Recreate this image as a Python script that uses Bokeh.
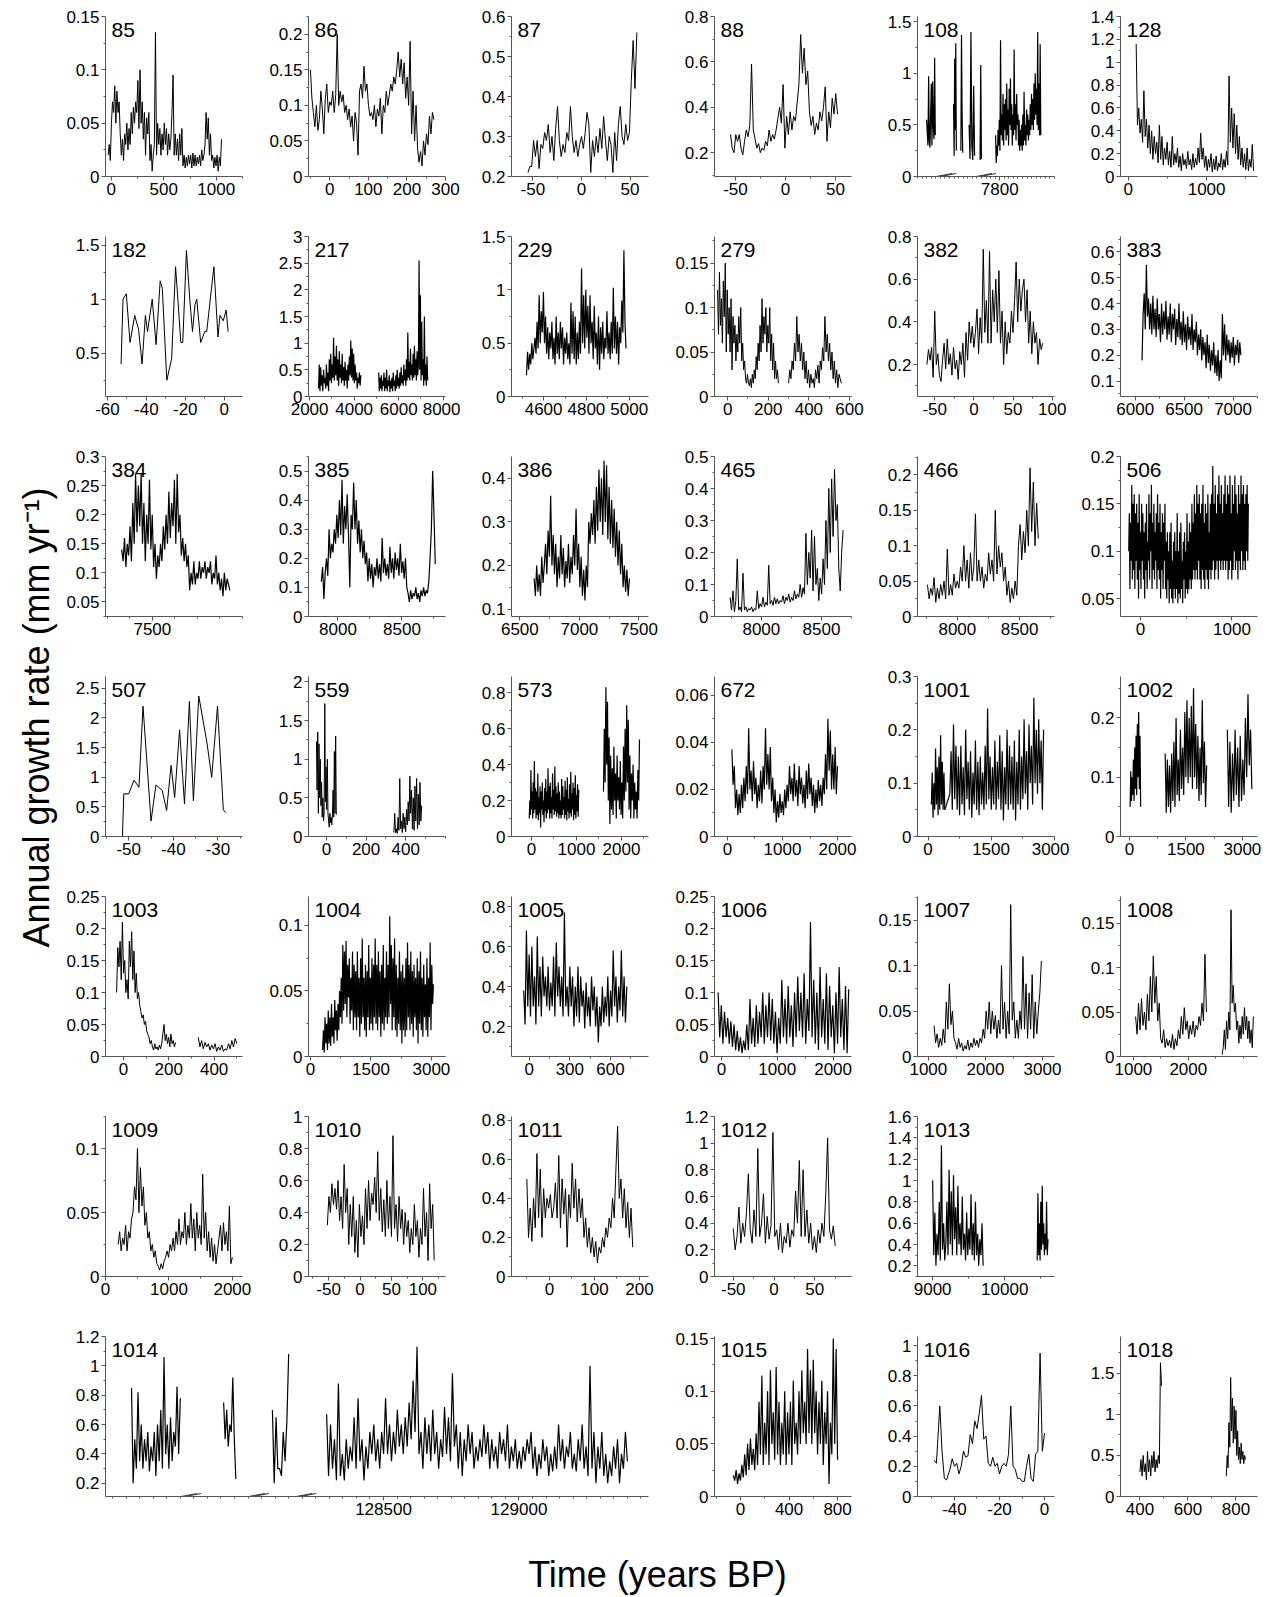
import numpy as np
from math import pi
from bokeh.plotting import figure
from bokeh.models import Range1d, FixedTicker, Label, Spacer, NumeralTickFormatter
from bokeh.layouts import row, column
from bokeh.embed import file_html
from bokeh.resources import INLINE

FONT = "Liberation Sans"

# ---------------- data ----------------
Y85 = [0.02,0.03,0.015,0.05,0.07,0.06,0.085,0.05,0.08,0.06,0.07,0.04,0.02,0.035,0.015,0.04,0.03,0.05,0.025,0.045,0.03,0.06,0.04,0.065,0.05,0.07,0.06,0.09,0.045,0.1,0.05,0.07,0.035,0.06,0.02,0.055,0.04,0.06,0.015,0.03,0.005,0.02,0.03,0.135,0.02,0.05,0.03,0.045,0.02,0.04,0.025,0.05,0.03,0.045,0.02,0.04,0.025,0.035,0.06,0.095,0.02,0.04,0.02,0.035,0.015,0.04,0.02,0.045,0.01,0.02,0.008,0.018,0.01,0.02,0.012,0.02,0.008,0.022,0.01,0.02,0.01,0.018,0.012,0.02,0.01,0.025,0.015,0.02,0.03,0.06,0.035,0.055,0.02,0.04,0.015,0.02,0.008,0.018,0.01,0.02,0.005,0.018,0.01,0.035]
Y86 = [0.15,0.11,0.09,0.07,0.1,0.065,0.08,0.12,0.095,0.06,0.11,0.13,0.09,0.105,0.1,0.12,0.09,0.115,0.2,0.1,0.12,0.105,0.115,0.09,0.1,0.08,0.095,0.07,0.085,0.05,0.09,0.075,0.03,0.12,0.13,0.11,0.155,0.12,0.13,0.1,0.085,0.09,0.08,0.1,0.07,0.095,0.085,0.11,0.06,0.1,0.09,0.12,0.1,0.115,0.13,0.12,0.14,0.13,0.15,0.175,0.14,0.165,0.13,0.16,0.11,0.14,0.1,0.19,0.06,0.12,0.05,0.1,0.04,0.02,0.035,0.015,0.05,0.03,0.06,0.045,0.085,0.06,0.09,0.08]
Y87 = [0.21,0.225,0.225,0.29,0.25,0.29,0.22,0.28,0.27,0.31,0.29,0.33,0.26,0.3,0.24,0.32,0.375,0.29,0.25,0.28,0.26,0.31,0.29,0.375,0.3,0.26,0.29,0.25,0.28,0.3,0.27,0.31,0.36,0.33,0.21,0.29,0.25,0.3,0.26,0.32,0.27,0.35,0.29,0.24,0.3,0.28,0.21,0.31,0.24,0.33,0.375,0.3,0.28,0.33,0.29,0.31,0.44,0.54,0.42,0.56]
Y88 = [0.28,0.22,0.2,0.28,0.25,0.28,0.22,0.19,0.25,0.3,0.27,0.32,0.59,0.3,0.26,0.22,0.24,0.2,0.22,0.21,0.25,0.23,0.3,0.25,0.28,0.26,0.3,0.35,0.4,0.33,0.5,0.22,0.36,0.28,0.38,0.3,0.36,0.34,0.42,0.5,0.72,0.55,0.66,0.5,0.56,0.38,0.32,0.36,0.28,0.33,0.3,0.38,0.34,0.4,0.49,0.25,0.38,0.31,0.44,0.37,0.46,0.37]
Y108A = [0.55,0.42,0.3,0.97,0.35,0.28,0.6,0.9,0.3,0.92,0.5,0.36,1.15,0.4]
Y108B = [0.7,0.2,1.14,0.45,1.29,0.25]
Y108C = [0.25,1.37,0.6,0.23]
Y108D = [0.5,0.17,1.4,0.3,0.16,0.88,0.2]
Y108E = [0.16,1.08,0.17]
Y108F = [0.4,0.13,0.3,0.2,0.45,0.3,0.55,0.25,1.32,0.4,0.6,0.35,0.8,0.3,0.7,0.45,0.75,0.35,0.9,0.4,0.65,0.3,0.85,0.5,0.95,0.45,0.7,0.3,0.6,0.4,1.23,0.45,0.7,0.35,0.8,0.5,0.6,0.3,0.55,0.25,0.45,0.3,0.5,0.25,0.6,0.3,0.82,0.35,0.5,0.3,0.65,0.4,0.6,0.35,0.55,0.4,0.7,0.45,0.8,0.5,0.75,0.45,0.9,0.55,1.0,0.6,0.85,0.5,1.4,0.45,0.9,0.4,1.28,0.4]
BREAKS108 = [7683, 7770]
Y128 = [1.16,0.45,0.6,0.38,0.5,0.3,0.75,0.35,0.5,0.25,0.45,0.2,0.4,0.15,0.35,0.2,0.3,0.12,0.45,0.15,0.35,0.1,0.25,0.15,0.3,0.1,0.22,0.08,0.35,0.1,0.2,0.12,0.25,0.08,0.18,0.05,0.2,0.1,0.15,0.07,0.22,0.1,0.15,0.06,0.2,0.08,0.16,0.1,0.25,0.12,0.38,0.15,0.25,0.08,0.18,0.05,0.15,0.08,0.2,0.04,0.15,0.06,0.18,0.05,0.12,0.08,0.2,0.06,0.15,0.08,0.22,0.1,0.88,0.3,0.6,0.25,0.55,0.2,0.45,0.15,0.35,0.1,0.25,0.08,0.2,0.06,0.25,0.05,0.15,0.08,0.28,0.05]
X182 = [-53,-52,-50.3,-48.4,-46,-44,-42.2,-40.5,-39.4,-37,-35,-32.9,-31.8,-29.5,-27,-25,-24,-22.3,-21.3,-19.4,-17.7,-16.3,-15,-14.1,-12.1,-10,-9,-5.3,-3.2,-2.2,-0.5,1,2]
Y182 = [0.4,1.0,1.05,0.6,0.85,0.72,0.4,0.85,0.7,1.0,0.58,1.17,1.1,0.25,0.45,1.3,1.05,0.6,0.6,1.45,1.0,0.7,0.95,1.0,0.6,0.7,0.7,1.3,0.65,0.85,0.8,0.9,0.7]
Y217A = [0.15,0.6,0.1,0.55,0.2,0.4,0.1,0.5,0.25,0.35,0.15,0.6,0.2,0.45,0.1,0.7,0.3,0.8,0.25,0.6,0.35,1.1,0.3,0.75,0.4,0.95,0.3,0.7,0.2,0.85,0.35,0.6,0.25,0.8,0.3,0.55,0.2,0.65,0.3,0.5,0.15,0.6,0.3,0.75,0.4,1.05,0.35,0.9,0.3,0.8,0.25,0.6,0.3,0.45,0.15,0.35,0.25,0.45,0.2,0.4]
Y217B = [0.45,0.1,0.35,0.15,0.4,0.1,0.3,0.2,0.45,0.1,0.35,0.15,0.5,0.1,0.3,0.2,0.4,0.08,0.3,0.15,0.35,0.1,0.45,0.2,0.3,0.1,0.4,0.15,0.5,0.2,0.35,0.15,0.45,0.2,0.55,0.25,0.4,0.2,0.6,0.3,0.5,0.2,0.7,0.3,1.2,0.35,0.65,0.3,0.9,0.4,0.6,0.3,0.8,0.35,0.95,0.4,0.7,0.3,0.85,0.4,0.6,2.55,0.5,1.9,0.3,1.4,0.4,0.7,0.2,1.5,0.3,0.6,0.2,0.75,0.3]
Y229 = [0.2,0.42,0.25,0.4,0.3,0.5,0.35,0.45,0.55,0.4,0.7,0.45,0.95,0.5,0.8,0.6,0.98,0.5,0.75,0.4,0.65,0.35,0.6,0.45,0.7,0.35,0.55,0.3,0.75,0.4,0.6,0.35,0.7,0.45,0.65,0.3,0.55,0.4,0.6,0.35,0.5,0.3,0.88,0.4,0.8,0.35,0.75,0.3,0.6,0.35,0.7,0.4,1.2,0.5,0.95,0.45,1.0,0.55,0.85,0.4,0.95,0.5,0.7,0.35,0.85,0.45,0.6,0.3,0.75,0.25,0.65,0.4,0.7,0.35,0.55,0.45,0.8,0.4,0.6,0.35,0.7,0.4,1.02,0.45,0.75,0.4,0.7,0.3,0.65,0.5,0.9,0.6,1.37,0.7,0.45]
Y279A = [0.12,0.07,0.14,0.08,0.11,0.06,0.13,0.09,0.15,0.05,0.12,0.07,0.1,0.05,0.11,0.03,0.09,0.06,0.08,0.04,0.07,0.05,0.09,0.06,0.1,0.04,0.06,0.03,0.04,0.02,0.015,0.025,0.015,0.012,0.02,0.01,0.025,0.015,0.03,0.02,0.045,0.03,0.06,0.04,0.08,0.05,0.11,0.06,0.09,0.07,0.1,0.05,0.08,0.06,0.1,0.04,0.07,0.03,0.06,0.02,0.04,0.02,0.03,0.015]
Y279B = [0.015,0.03,0.02,0.04,0.03,0.06,0.04,0.09,0.05,0.07,0.04,0.06,0.03,0.05,0.02,0.04,0.015,0.03,0.01,0.025,0.015,0.02,0.01,0.03,0.02,0.035,0.015,0.04,0.03,0.055,0.04,0.09,0.05,0.07,0.04,0.06,0.03,0.05,0.02,0.04,0.015,0.03,0.01,0.025,0.02,0.015]
Y382 = [0.2,0.27,0.22,0.28,0.14,0.45,0.2,0.25,0.15,0.12,0.22,0.3,0.18,0.32,0.2,0.25,0.15,0.28,0.18,0.22,0.13,0.26,0.2,0.3,0.14,0.35,0.22,0.4,0.3,0.38,0.28,0.35,0.46,0.25,0.42,0.3,0.74,0.35,0.5,0.3,0.73,0.3,0.55,0.4,0.6,0.35,0.64,0.3,0.45,0.2,0.4,0.25,0.35,0.3,0.45,0.35,0.5,0.68,0.4,0.6,0.45,0.55,0.6,0.4,0.55,0.3,0.45,0.25,0.4,0.3,0.35,0.2,0.32,0.27,0.3]
Y383 = [0.18,0.36,0.44,0.3,0.55,0.35,0.42,0.3,0.4,0.28,0.43,0.3,0.38,0.27,0.42,0.3,0.36,0.25,0.4,0.28,0.37,0.3,0.41,0.26,0.35,0.28,0.4,0.25,0.36,0.3,0.38,0.24,0.34,0.27,0.4,0.26,0.33,0.24,0.37,0.25,0.32,0.22,0.35,0.26,0.31,0.24,0.36,0.22,0.3,0.25,0.33,0.2,0.28,0.22,0.3,0.18,0.27,0.2,0.25,0.15,0.28,0.17,0.24,0.14,0.22,0.16,0.25,0.13,0.2,0.12,0.22,0.1,0.18,0.11,0.36,0.2,0.32,0.18,0.28,0.2,0.26,0.17,0.25,0.19,0.27,0.16,0.24,0.2,0.26,0.17,0.25,0.2]
Y384 = [0.14,0.12,0.16,0.11,0.15,0.13,0.18,0.12,0.22,0.15,0.27,0.17,0.25,0.18,0.27,0.15,0.22,0.12,0.2,0.15,0.26,0.14,0.2,0.11,0.15,0.09,0.13,0.11,0.15,0.12,0.18,0.14,0.2,0.15,0.24,0.16,0.22,0.18,0.26,0.15,0.27,0.17,0.2,0.13,0.16,0.12,0.15,0.11,0.13,0.07,0.1,0.08,0.12,0.08,0.1,0.09,0.12,0.09,0.11,0.1,0.12,0.09,0.11,0.1,0.12,0.08,0.1,0.09,0.13,0.08,0.1,0.07,0.09,0.06,0.1,0.07,0.09,0.08,0.07]
Y385 = [0.12,0.17,0.06,0.15,0.2,0.14,0.3,0.2,0.25,0.22,0.3,0.25,0.35,0.27,0.4,0.28,0.47,0.25,0.38,0.3,0.42,0.28,0.1,0.35,0.3,0.46,0.3,0.4,0.25,0.33,0.22,0.3,0.2,0.26,0.18,0.22,0.12,0.2,0.13,0.18,0.1,0.17,0.14,0.2,0.13,0.18,0.12,0.27,0.15,0.2,0.14,0.18,0.13,0.24,0.15,0.2,0.13,0.22,0.16,0.2,0.14,0.25,0.15,0.19,0.13,0.2,0.1,0.08,0.05,0.09,0.06,0.08,0.07,0.1,0.06,0.08,0.05,0.09,0.07,0.1,0.07,0.09,0.08,0.12,0.2,0.3,0.5,0.35,0.18]
Y386 = [0.17,0.13,0.2,0.14,0.18,0.13,0.22,0.16,0.2,0.25,0.18,0.28,0.22,0.36,0.2,0.27,0.18,0.25,0.15,0.22,0.17,0.27,0.18,0.24,0.15,0.21,0.17,0.25,0.16,0.22,0.18,0.27,0.2,0.33,0.19,0.25,0.15,0.22,0.13,0.19,0.12,0.2,0.15,0.3,0.25,0.32,0.27,0.35,0.25,0.38,0.28,0.42,0.3,0.4,0.27,0.44,0.3,0.43,0.26,0.38,0.25,0.35,0.24,0.33,0.22,0.3,0.2,0.28,0.18,0.25,0.15,0.2,0.14,0.19,0.13,0.17]
Y465 = [0.06,0.02,0.08,0.015,0.05,0.18,0.02,0.03,0.015,0.135,0.02,0.03,0.015,0.025,0.02,0.03,0.015,0.025,0.02,0.08,0.025,0.04,0.03,0.06,0.03,0.045,0.035,0.16,0.04,0.05,0.035,0.06,0.04,0.055,0.04,0.05,0.045,0.065,0.04,0.06,0.05,0.07,0.045,0.06,0.05,0.08,0.055,0.07,0.06,0.1,0.06,0.09,0.07,0.26,0.1,0.2,0.12,0.27,0.08,0.25,0.1,0.15,0.05,0.12,0.07,0.18,0.1,0.3,0.15,0.4,0.2,0.43,0.25,0.46,0.3,0.35,0.15,0.08,0.2,0.27]
Y466 = [0.045,0.025,0.04,0.03,0.055,0.02,0.04,0.025,0.045,0.03,0.05,0.025,0.095,0.03,0.045,0.03,0.06,0.04,0.05,0.04,0.07,0.05,0.1,0.05,0.08,0.04,0.09,0.05,0.07,0.145,0.05,0.08,0.05,0.07,0.04,0.06,0.05,0.09,0.06,0.08,0.05,0.15,0.06,0.1,0.07,0.09,0.05,0.07,0.03,0.05,0.02,0.04,0.025,0.05,0.03,0.1,0.13,0.08,0.12,0.09,0.15,0.1,0.21,0.12,0.19,0.1,0.16,0.11]
Y506 = [0.1,0.14,0.06,0.13,0.09,0.17,0.07,0.15,0.08,0.16,0.06,0.14,0.09,0.15,0.07,0.13,0.05,0.16,0.08,0.12,0.06,0.15,0.09,0.14,0.07,0.12,0.05,0.13,0.08,0.15,0.06,0.11,0.09,0.16,0.07,0.14,0.1,0.17,0.06,0.13,0.08,0.15,0.07,0.12,0.09,0.14,0.06,0.16,0.08,0.13,0.07,0.15,0.05,0.12,0.08,0.14,0.06,0.13,0.09,0.15,
        0.06,0.11,0.05,0.12,0.07,0.1,0.045,0.12,0.06,0.13,0.05,0.09,0.045,0.11,0.06,0.12,0.05,0.1,0.06,0.14,0.045,0.1,0.055,0.12,0.05,0.13,0.06,0.09,0.045,0.11,0.07,0.12,0.05,0.1,0.06,0.14,0.055,0.11,0.06,0.13,0.07,0.12,0.06,0.15,0.07,0.13,0.08,0.16,0.07,0.14,
        0.08,0.17,0.07,0.15,0.09,0.16,0.07,0.14,0.06,0.15,0.08,0.17,0.07,0.13,0.06,0.15,0.08,0.14,0.07,0.16,0.06,0.12,0.08,0.15,0.07,0.16,0.08,0.19,0.09,0.15,0.07,0.17,0.08,0.14,0.09,0.16,0.07,0.18,0.09,0.15,0.08,0.17,0.09,0.14,0.08,0.16,0.09,0.18,0.08,0.15,0.09,0.17,0.07,0.16,0.08,0.18,0.09,0.14,0.07,0.17,0.08,0.15,0.1,0.18,0.08,0.16,0.09,0.14,0.07,0.17,0.09,0.15,0.08,0.18,0.1,0.16,0.08,0.17,0.09,0.15,0.08,0.16,0.1,0.17,0.09,0.15]
X507 = [-51.4,-51.1,-50,-48.8,-47.7,-46.8,-45,-43.9,-42.5,-41.5,-40.5,-39.7,-38.6,-37.5,-36.4,-35.5,-34.3,-32.5,-31.4,-30.1,-28.8,-28.2]
Y507 = [0,0.72,0.72,0.95,0.83,2.2,0.26,0.87,0.78,0.44,1.2,0.66,1.8,0.55,2.28,0.6,2.37,1.6,1.0,2.2,0.45,0.4]
Y559A = [1.23,0.6,1.35,0.3,1.2,0.5,1.0,0.4,0.7,0.25,0.5,0.2,0.3,1.72,0.45,0.9,0.35,1.0,0.3,0.2,0.12,0.3,0.18,0.25,0.15,0.3,0.6,0.25,1.1,0.3,1.3,0.28]
Y559B = [0.05,0.3,0.05,0.1,0.04,0.25,0.08,0.75,0.1,0.2,0.05,0.3,0.1,0.25,0.06,0.35,0.15,0.45,0.2,0.78,0.3,0.6,0.1,0.5,0.08,0.65,0.2,0.75,0.1,0.55,0.15,0.7,0.2,0.4]
Y573A = [0.1,0.2,0.12,0.37,0.15,0.25,0.1,0.3,0.13,0.42,0.15,0.27,0.1,0.25,0.12,0.35,0.09,0.22,0.13,0.28,0.05,0.25,0.15,0.3,0.12,0.2,0.08,0.27,0.14,0.32,0.1,0.25,0.13,0.38,0.15,0.28,0.1,0.3,0.13,0.22,0.1,0.35,0.15,0.26,0.12,0.39,0.14,0.28,0.11,0.24,0.13,0.3,0.1,0.25,0.12,0.2,0.1,0.32,0.12,0.28,0.15,0.22,0.1,0.31,
         0.12,0.26,0.09,0.33,0.14,0.21,0.1,0.29,0.13,0.36,0.11,0.24,0.15,0.3,0.09,0.27,0.12,0.34,0.1,0.23,0.14,0.29,0.11,0.26]
Y573B = [0.25,0.6,0.3,0.83,0.4,0.75,0.2,0.55,0.07,0.45,0.15,0.38,0.12,0.5,0.2,0.35,0.1,0.45,0.2,0.33,0.15,0.42,0.12,0.3,0.1,0.5,0.2,0.6,0.25,0.73,0.3,0.65,0.15,0.45,0.1,0.35,0.2,0.4,0.1,0.3,0.15,0.25,0.1,0.37,0.2,0.54]
Y672 = [0.037,0.022,0.03,0.012,0.02,0.009,0.018,0.01,0.022,0.012,0.025,0.015,0.03,0.018,0.046,0.02,0.028,0.015,0.032,0.018,0.025,0.012,0.022,0.015,0.028,0.014,0.03,0.02,0.046,0.022,0.035,0.02,0.038,0.015,0.025,0.01,0.02,0.006,0.015,0.008,0.018,0.01,0.015,0.009,0.02,0.012,0.022,0.015,0.03,0.018,0.025,0.015,0.031,0.017,0.024,0.013,0.03,0.018,0.025,0.014,0.022,0.012,0.028,0.016,0.031,0.018,0.025,0.013,0.022,0.01,0.02,0.012,0.024,0.015,0.022,0.013,0.025,0.018,0.035,0.02,0.05,0.028,0.045,0.02,0.035,0.02,0.038,0.018,0.03]
Y1001A = [0.06,0.12,0.035,0.1,0.05,0.165,0.06,0.13,0.04,0.15,0.05,0.19,0.06,0.14,0.05,0.12,0.05]
Y1001L = [0.05,0.08]
Y1001B = [0.08,0.16,0.05,0.21,0.07,0.17,0.05,0.15,0.04,0.17,0.06,0.13,0.04,0.2,0.07,0.14,0.05,0.16,0.035,0.12,0.06,0.18,0.05,0.14,0.04,0.15,0.06,0.12,0.05,0.17,0.06,0.24,0.07,0.15,0.05,0.13,0.06,0.18,0.05,0.14,0.07,0.19,0.05,0.16,0.03,0.13,0.06,0.2,0.05,0.17,0.06,0.15,0.05,0.18,0.03,0.14,0.06,0.2,0.05,0.15,0.07,0.22,0.08,0.16,0.05,0.21,0.1,0.17,0.06,0.26,0.1,0.2,0.08,0.22,0.1,0.18,0.05,0.2]
Y1002A = [0.05,0.11,0.06,0.1,0.07,0.13,0.06,0.15,0.08,0.17,0.07,0.19,0.1,0.21,0.08,0.17,0.05]
Y1002B = [0.14,0.04,0.13,0.05,0.12,0.04,0.14,0.06,0.16,0.05,0.2,0.07,0.13,0.06,0.18,0.08,0.15,0.07,0.21,0.1,0.23,0.09,0.2,0.1,0.22,0.08,0.25,0.1,0.19,0.08,0.17,0.06,0.15,0.07,0.23,0.09,0.16,0.05,0.12]
Y1002C = [0.18,0.05,0.16,0.04,0.14,0.06,0.18,0.07,0.15,0.05,0.17,0.06,0.13,0.07,0.2,0.1,0.24,0.12,0.18,0.08]
Y1003A = [0.1,0.17,0.14,0.18,0.12,0.21,0.13,0.15,0.1,0.12,0.09,0.18,0.14,0.195,0.12,0.165,0.1,0.13,0.09,0.1,0.08,0.07,0.06,0.065,0.05,0.055,0.04,0.035,0.03,0.02,0.025,0.015,0.01,0.02,0.012,0.015,0.01,0.018,0.012,0.02,0.035,0.05,0.025,0.035,0.02,0.03,0.015,0.035,0.02,0.025,0.015,0.022]
Y1003B = [0.03,0.015,0.025,0.012,0.022,0.015,0.02,0.01,0.018,0.012,0.02,0.008,0.015,0.01,0.018,0.008,0.012,0.01,0.02,0.012,0.025,0.015,0.028,0.02]
Y1004 = [0.005,0.02,0.003,0.03,0.01,0.025,0.005,0.035,0.01,0.03,0.008,0.04,0.015,0.03,0.01,0.043,0.02,0.035,0.012,0.04,0.02,0.05,0.03,0.06,0.025,
         0.085,0.035,0.08,0.04,0.088,0.03,0.07,0.045,0.075,0.025,0.06,0.035,0.08,0.02,0.07,
         0.03,0.065,0.02,0.08,0.03,0.06,0.015,0.075,0.025,0.09,0.03,0.06,0.02,0.07,0.015,0.065,0.03,0.085,0.02,0.06,0.025,0.075,0.02,0.07,0.03,0.09,0.025,0.07,0.02,0.08,0.03,0.065,0.015,0.07,0.025,0.085,0.02,0.06,0.03,0.08,0.025,0.07,0.03,0.107,0.04,0.085,0.02,0.075,0.03,0.09,0.02,0.07,0.015,0.06,0.025,0.08,0.02,0.065,0.01,0.07,0.02,0.06,0.015,0.075,0.02,0.087,0.03,0.07,0.02,0.08,0.025,0.065,0.015,0.07,0.03,0.06,0.02,0.075,0.01,0.065,0.025,0.08,0.02,0.06,0.015,0.07,0.03,0.055,0.02,0.075,0.015,0.06,0.03,0.087,0.02,0.07,0.04,0.055]
Y1005 = [0.38,0.21,0.68,0.3,0.56,0.25,0.6,0.3,0.45,0.21,0.65,0.3,0.5,0.25,0.55,0.35,0.45,0.3,0.5,0.28,0.42,0.3,0.55,0.25,0.62,0.35,0.5,0.3,0.45,0.25,0.77,0.3,0.4,0.25,0.5,0.3,0.45,0.2,0.4,0.25,0.5,0.22,0.45,0.3,0.38,0.19,0.42,0.25,0.35,0.2,0.45,0.28,0.4,0.2,0.35,0.12,0.3,0.2,0.4,0.22,0.35,0.25,0.45,0.2,0.38,0.25,0.58,0.3,0.45,0.22,0.4,0.28,0.58,0.25,0.45,0.22,0.4]
Y1006 = [0.1,0.03,0.08,0.02,0.07,0.03,0.06,0.02,0.055,0.015,0.05,0.01,0.04,0.008,0.03,0.005,0.025,0.01,0.05,0.01,0.09,0.02,0.06,0.015,0.08,0.02,0.07,0.03,0.1,0.02,0.08,0.03,0.1,0.025,0.09,0.02,0.07,0.005,0.06,0.02,0.12,0.03,0.09,0.02,0.11,0.03,0.08,0.015,0.1,0.03,0.125,0.04,0.1,0.03,0.13,0.02,0.09,0.04,0.21,0.03,0.12,0.02,0.1,0.01,0.14,0.03,0.09,0.02,0.13,0.01,0.11,0.03,0.08,0.005,0.1,0.02,0.14,0.03,0.09,0.01,0.11,0.005,0.105]
Y1007 = [0.034,0.015,0.025,0.01,0.02,0.012,0.03,0.015,0.06,0.03,0.08,0.035,0.05,0.02,0.015,0.008,0.02,0.01,0.015,0.006,0.012,0.008,0.018,0.007,0.015,0.01,0.02,0.012,0.018,0.01,0.02,0.015,0.03,0.02,0.05,0.03,0.06,0.025,0.05,0.03,0.045,0.02,0.04,0.025,0.1,0.03,0.06,0.02,0.05,0.025,0.167,0.04,0.06,0.02,0.04,0.02,0.05,0.03,0.11,0.03,0.08,0.02,0.07,0.03,0.09,0.02,0.06,0.025,0.05,0.07,0.105]
Y1008A = [0.045,0.025,0.06,0.03,0.065,0.035,0.05,0.03,0.07,0.04,0.09,0.05,0.113,0.06,0.09,0.04,0.06,0.02,0.015,0.03,0.01,0.02,0.012,0.018,0.01,0.025,0.008,0.02,0.012,0.03,0.02,0.045,0.025,0.055,0.03,0.04,0.02,0.035,0.025,0.04,0.022,0.035,0.03,0.045,0.035,0.06,0.04,0.115,0.05]
Y1008B = [0.002,0.01,0.03,0.008,0.04,0.02,0.05,0.03,0.165,0.06,0.08,0.05,0.06,0.03,0.04,0.015,0.035,0.02,0.045,0.025,0.055,0.03,0.045,0.02,0.04,0.015,0.03,0.01,0.045]
Y1009 = [0.025,0.035,0.02,0.03,0.025,0.04,0.02,0.035,0.03,0.045,0.05,0.07,0.06,0.1,0.05,0.085,0.055,0.07,0.04,0.05,0.03,0.035,0.02,0.025,0.015,0.02,0.01,0.008,0.005,0.01,0.006,0.012,0.015,0.02,0.015,0.025,0.02,0.03,0.02,0.035,0.025,0.045,0.025,0.035,0.03,0.05,0.025,0.04,0.03,0.057,0.03,0.045,0.02,0.05,0.03,0.04,0.025,0.08,0.03,0.05,0.02,0.035,0.015,0.03,0.012,0.025,0.01,0.02,0.03,0.04,0.02,0.042,0.025,0.035,0.02,0.055,0.01,0.015]
Y1010 = [0.32,0.5,0.4,0.58,0.45,0.55,0.42,0.6,0.35,0.5,0.3,0.7,0.4,0.55,0.2,0.45,0.25,0.5,0.15,0.35,0.12,0.45,0.25,0.38,0.2,0.55,0.3,0.6,0.35,0.52,0.45,0.62,0.4,0.78,0.35,0.55,0.28,0.48,0.25,0.6,0.3,0.5,0.25,0.88,0.3,0.45,0.22,0.5,0.3,0.42,0.2,0.4,0.25,0.35,0.15,0.3,0.2,0.45,0.25,0.35,0.12,0.3,0.2,0.55,0.25,0.4,0.1,0.58,0.3,0.45,0.1]
Y1011 = [0.5,0.2,0.35,0.18,0.4,0.25,0.63,0.3,0.55,0.2,0.45,0.3,0.4,0.35,0.42,0.3,0.35,0.48,0.3,0.62,0.25,0.5,0.32,0.45,0.15,0.42,0.3,0.58,0.35,0.5,0.28,0.45,0.3,0.4,0.2,0.3,0.15,0.25,0.12,0.2,0.1,0.18,0.07,0.15,0.12,0.2,0.15,0.25,0.2,0.3,0.25,0.4,0.3,0.55,0.77,0.4,0.5,0.3,0.45,0.25,0.38,0.2,0.35,0.15]
Y1012 = [0.36,0.2,0.3,0.52,0.25,0.4,0.3,0.48,0.77,0.35,0.25,0.5,0.3,0.96,0.3,0.4,0.62,0.25,0.45,0.28,0.38,1.08,0.3,0.35,0.2,0.4,0.18,0.3,0.25,0.4,0.22,0.35,0.3,0.64,0.4,0.87,0.3,0.8,0.3,0.5,0.25,0.4,0.2,0.3,0.18,0.35,0.25,0.4,0.3,0.62,1.04,0.35,0.28,0.38,0.23]
Y1013A = [1.0,0.3,0.7,0.2,0.5,0.3,0.8,0.25,1.33,0.35,0.6,0.25,0.4,0.8,0.3,1.1,0.4,0.9,0.3,1.05,0.45,0.75,0.3,0.95,0.4,0.6,0.3,0.85,0.35,0.5,0.25,0.7,0.3,0.55,0.35,0.87,0.3,0.6,0.25,0.8,0.3,0.5,0.2,0.45,0.3,0.6,0.2]
Y1013B = [0.25,0.88,0.3,0.6,0.25,0.8,0.35,0.95,0.4,0.6,0.3,0.5,0.35,0.8,0.3,0.45]
Y1014A = [0.85,0.2,0.5,0.3,0.82,0.35,0.6,0.3,0.5,0.35,0.55,0.28,0.45,0.35,0.55,0.25,0.6,0.35,0.7,0.3,1.06,0.4,0.6,0.3,0.65,0.35,0.55,0.45,0.86,0.4,0.78]
Y1014B = [0.75,0.5,0.7,0.45,0.6,0.55,0.92,0.5,0.23]
Y1014C = [0.7,0.2,0.65,0.3,0.3,0.25,0.55,0.35,0.62,1.08]
Y1014D = [0.67,0.25,0.6,0.3,0.5,0.22,0.88,0.25,0.4,0.22,0.5,0.3,0.45,0.35,0.65,0.3,0.78,0.35,0.5,0.22,0.45,0.3,0.55,0.4,0.6,0.35,0.5,0.3,0.55,0.4,0.78,0.4,0.6,0.35,0.55,0.4,0.7,0.45,0.6,0.4,0.65,0.45,0.75,0.5,0.9,0.55,1.13,0.4,0.55,0.3,0.65,0.4,0.6,0.35,0.7,0.4,0.55,0.3,0.5,0.38,0.72,0.4,0.65,0.35,0.95,0.45,0.6,0.3,0.55,0.25,0.5,0.35,0.6,0.4,0.55,0.3,0.45,0.35,0.5,0.38,0.6,0.4,0.55,0.3,0.5,0.35,0.45,0.3,0.55,0.4,0.5,0.35,0.6,0.3,0.45,0.35,0.5,0.3,0.42,0.3,0.45,0.35,0.5,0.4,0.55,0.3,0.45,0.25,0.4,0.3,0.5,0.35,0.45,0.25,0.4,0.28,0.45,0.3,0.6,0.35,0.5,0.3,0.45,0.38,0.55,0.3,0.4,0.28,0.5,0.35,0.6,0.3,0.45,0.25,1.0,0.3,0.55,0.2,0.45,0.3,0.55,0.25,0.4,0.2,0.35,0.25,0.45,0.3,0.5,0.2,0.4,0.3,0.55,0.35]
BREAKS1014 = [127790, 128040, 128215]
Y1015 = [0.02,0.015,0.025,0.012,0.022,0.015,0.03,0.018,0.04,0.02,0.05,0.025,0.055,0.03,0.045,0.025,0.06,0.03,0.09,0.04,0.115,0.03,0.07,0.04,0.1,0.03,0.12,0.05,0.08,0.035,0.123,0.04,0.09,0.03,0.07,0.04,0.1,0.03,0.08,0.04,0.09,0.03,0.11,0.05,0.07,0.04,0.1,0.05,0.12,0.06,0.09,0.05,0.14,0.06,0.12,0.05,0.13,0.06,0.1,0.04,0.09,0.05,0.11,0.03,0.08,0.05,0.1,0.012,0.07,0.04,0.15,0.05,0.14,0.035]
X1016 = [-49,-48,-46.5,-45.5,-44.5,-43.5,-42,-41,-40,-39,-38,-37,-36,-35,-34,-33,-32,-31,-30,-29,-28,-27,-26,-25,-24,-23,-22,-21,-20,-19,-18,-17,-16,-15,-14,-13,-12,-11,-10,-9,-8,-7,-6,-5,-4,-3,-2,-1,0]
Y1016 = [0.24,0.22,0.6,0.3,0.12,0.11,0.18,0.25,0.2,0.22,0.15,0.2,0.3,0.26,0.27,0.41,0.35,0.5,0.45,0.55,0.67,0.38,0.4,0.22,0.2,0.26,0.2,0.22,0.15,0.2,0.22,0.2,0.28,0.6,0.2,0.18,0.12,0.12,0.1,0.1,0.2,0.28,0.12,0.1,0.28,0.3,0.95,0.3,0.42]
Y1018A = [0.3,0.45,0.25,0.5,0.3,0.4,0.2,0.55,0.3,0.45,0.25,0.5,0.35,0.55,0.3,0.45,0.35,0.5,0.4,1.63,1.35]
Y1018B = [0.25,0.5,0.35,0.9,0.6,1.45,0.8,1.2,0.65,1.1,0.7,1.05,0.5,0.8,0.45,0.6,0.4,0.65,0.45,0.55,0.4,0.5,0.45]


def steps(a, b, s):
    return [round(a + i * s, 6) for i in range(int(round((b - a) / s)) + 1)]


# panel table: name, segments (x-start, x-end, values), x range, y range, x ticks, y ticks
PANELS = [
    dict(name="85", segs=[(-30, 1050, Y85)], xr=(-55, 1250), yr=(0, 0.15), xt=[0, 500, 1000], yt=steps(0, 0.15, 0.05)),
    dict(name="86", segs=[(-50, 270, Y86)], xr=(-55, 300), yr=(0, 0.225), xt=[0, 100, 200, 300], yt=steps(0, 0.2, 0.05)),
    dict(name="87", segs=[(-55, 57, Y87)], xr=(-72, 69), yr=(0.2, 0.6), xt=[-50, 0, 50], yt=steps(0.2, 0.6, 0.1)),
    dict(name="88", segs=[(-55, 52, Y88)], xr=(-71, 66), yr=(0.095, 0.8), xt=[-50, 0, 50], yt=steps(0.2, 0.8, 0.2)),
    dict(name="108", segs=[(7640, 7659, Y108A), (7699, 7705, Y108B), (7715, 7719, Y108C), (7733, 7745, Y108D), (7757, 7760, Y108E), (7791, 7890, Y108F)],
         xr=(7620, 7920), yr=(0, 1.55), xt=[7800], yt=steps(0, 1.5, 0.5), xminor=10, breaks=BREAKS108, dense=True),
    dict(name="128", segs=[(100, 1600, Y128)], xr=(-100, 1650), yr=(0, 1.4), xt=[0, 1000], yt=steps(0, 1.4, 0.2)),
    dict(name="182", xy=(X182, Y182), xr=(-61, 9.4), yr=(0.1, 1.58), xt=[-60, -40, -20, 0], yt=[0.5, 1, 1.5]),
    dict(name="217", segs=[(2400, 4300, Y217A), (5100, 7300, Y217B)], xr=(1950, 8100), yr=(0, 3), xt=[2000, 4000, 6000, 8000], yt=steps(0, 3, 0.5), dense=True),
    dict(name="229", segs=[(4520, 4985, Y229)], xr=(4450, 5090), yr=(0, 1.5), xt=[4600, 4800, 5000], yt=steps(0, 1.5, 0.5), dense=True),
    dict(name="279", segs=[(-50, 250, Y279A), (300, 560, Y279B)], xr=(-65, 610), yr=(0, 0.18), xt=[0, 200, 400, 600], yt=steps(0, 0.15, 0.05)),
    dict(name="382", segs=[(-60, 88, Y382)], xr=(-72, 103), yr=(0.05, 0.8), xt=[-50, 0, 50, 100], yt=steps(0.2, 0.8, 0.2)),
    dict(name="383", segs=[(6070, 7080, Y383)], xr=(5850, 7250), yr=(0.04, 0.66), xt=[6000, 6500, 7000], yt=steps(0.1, 0.6, 0.1), dense=True),
    dict(name="384", segs=[(7330, 7930, Y384)], xr=(7240, 8000), yr=(0.025, 0.3), xt=[7500], yt=steps(0.05, 0.3, 0.05), xminor=125, dense=True),
    dict(name="385", segs=[(7870, 8760, Y385)], xr=(7770, 8840), yr=(0, 0.55), xt=[8000, 8500], yt=steps(0, 0.5, 0.1), dense=True),
    dict(name="386", segs=[(6620, 7420, Y386)], xr=(6430, 7580), yr=(0.083, 0.45), xt=[6500, 7000, 7500], yt=steps(0.1, 0.4, 0.1), dense=True),
    dict(name="465", segs=[(7740, 8680, Y465)], xr=(7610, 8750), yr=(0, 0.5), xt=[8000, 8500], yt=steps(0, 0.5, 0.1)),
    dict(name="466", segs=[(7760, 8650, Y466)], xr=(7680, 8780), yr=(0, 0.226), xt=[8000, 8500], yt=steps(0, 0.2, 0.05)),
    dict(name="506", segs=[(-130, 1180, Y506)], xr=(-220, 1280), yr=(0.031, 0.2), xt=[0, 1000], yt=steps(0.05, 0.2, 0.05), dense=True),
    dict(name="507", xy=(X507, Y507), xr=(-55.2, -24.5), yr=(0, 2.7), xt=[-50, -40, -30], yt=steps(0, 2.5, 0.5)),
    dict(name="559", segs=[(-50, 50, Y559A), (340, 480, Y559B)], xr=(-90, 600), yr=(0, 2.07), xt=[0, 200, 400], yt=steps(0, 2, 0.5)),
    dict(name="573", segs=[(-50, 1050, Y573A), (1600, 2400, Y573B)], xr=(-444, 2600), yr=(0, 0.89), xt=[0, 1000, 2000], yt=steps(0, 0.8, 0.2), dense=True),
    dict(name="672", segs=[(80, 2000, Y672)], xr=(-236, 2254), yr=(0, 0.068), xt=[0, 1000, 2000], yt=steps(0, 0.06, 0.02), dense=True),
    dict(name="1001", segs=[(80, 400, Y1001A), (400, 520, Y1001L), (520, 2750, Y1001B)], xr=(-250, 3010), yr=(0, 0.3), xt=[0, 1500, 3000], yt=steps(0, 0.3, 0.1), dense=True),
    dict(name="1002", segs=[(20, 300, Y1002A), (950, 2050, Y1002B), (2600, 3250, Y1002C)], xr=(-235, 3400), yr=(0, 0.27), xt=[0, 1500, 3000], yt=steps(0, 0.2, 0.1), dense=True),
    dict(name="1003", segs=[(-30, 230, Y1003A), (330, 500, Y1003B)], xr=(-79, 525), yr=(0, 0.25), xt=[0, 200, 400], yt=steps(0, 0.25, 0.05)),
    dict(name="1004", segs=[(300, 3050, Y1004)], xr=(-50, 3350), yr=(0, 0.122), xt=[0, 1500, 3000], yt=steps(0, 0.1, 0.05), dense=True),
    dict(name="1005", segs=[(-40, 720, Y1005)], xr=(-130, 880), yr=(0.05, 0.85), xt=[0, 300, 600], yt=steps(0.2, 0.8, 0.2), dense=True),
    dict(name="1006", segs=[(-60, 2280, Y1006)], xr=(-125, 2330), yr=(0, 0.25), xt=[0, 1000, 2000], yt=steps(0, 0.25, 0.05), dense=True),
    dict(name="1007", segs=[(1100, 2980, Y1007)], xr=(810, 3210), yr=(0, 0.176), xt=[1000, 2000, 3000], yt=steps(0, 0.15, 0.05)),
    dict(name="1008", segs=[(1040, 2330, Y1008A), (2615, 3185, Y1008B)], xr=(765, 3260), yr=(0, 0.18), xt=[1000, 2000], yt=steps(0, 0.15, 0.05)),
    dict(name="1009", segs=[(200, 2000, Y1009)], xr=(0, 2160), yr=(0, 0.125), xt=[0, 1000, 2000], yt=steps(0, 0.1, 0.05)),
    dict(name="1010", segs=[(-52, 118, Y1010)], xr=(-82, 136), yr=(0, 1), xt=[-50, 0, 50, 100], yt=steps(0, 1, 0.2)),
    dict(name="1011", segs=[(-50, 185, Y1011)], xr=(-84, 220), yr=(0, 0.82), xt=[0, 100, 200], yt=steps(0, 0.8, 0.2)),
    dict(name="1012", segs=[(-50, 75, Y1012)], xr=(-73, 95), yr=(0, 1.2), xt=[-50, 0, 50], yt=steps(0, 1.2, 0.2)),
    dict(name="1013", segs=[(9000, 9700, Y1013A), (10450, 10600, Y1013B)], xr=(8790, 10690), yr=(0.1, 1.6), xt=[9000, 10000], yt=steps(0.2, 1.6, 0.2), dense=True),
    None,
    dict(name="1014", segs=[(127570, 127750, Y1014A), (127910, 127955, Y1014B), (128090, 128150, Y1014C), (128290, 129400, Y1014D)],
         xr=(127474, 129478), yr=(0.11, 1.2), xt=[128500, 129000], yt=steps(0.2, 1.2, 0.2), xminor=50, breaks=BREAKS1014, dense=True),
    dict(name="1015", segs=[(-60, 800, Y1015)], xr=(-215, 915), yr=(0, 0.152), xt=[0, 400, 800], yt=steps(0, 0.15, 0.05), dense=True),
    dict(name="1016", xy=(X1016, Y1016), xr=(-56.4, 4.4), yr=(0, 1.06), xt=[-40, -20, 0], yt=steps(0, 1, 0.2)),
    dict(name="1018", segs=[(400, 490, Y1018A), (760, 840, Y1018B)], xr=(319, 890), yr=(0, 1.95), xt=[400, 600, 800], yt=steps(0, 1.5, 0.5)),
]

# ---------------- layout constants ----------------
YL_W = 60          # width of the y-title strip
CELL_W = 203
CELL_H = 220
FRAME_H = 160
MB_LEFT = 51
MB_LEFT_FIRST = 45
MB_TOP = 16
AX_COLOR = "#555555"


def minor_ticks(ticks, rng, step):
    if step is None:
        step = (ticks[1] - ticks[0]) / 2.0
    base = ticks[0]
    lo = int(np.floor((rng[0] - base) / step)) - 1
    hi = int(np.ceil((rng[1] - base) / step)) + 1
    out = []
    for k in range(lo, hi + 1):
        v = base + k * step
        if rng[0] <= v <= rng[1] and min(abs(v - t) for t in ticks) > step * 1e-6:
            out.append(float(v))
    return out


def make_panel(spec, cell_w, first_col=False, last_col=False):
    mbl = MB_LEFT_FIRST if first_col else MB_LEFT
    mbr = 13 if last_col else 15
    fw = cell_w - mbl - mbr
    xr, yr = spec["xr"], spec["yr"]
    p = figure(frame_width=fw, frame_height=FRAME_H,
               min_border_left=mbl, min_border_right=mbr,
               min_border_top=MB_TOP, min_border_bottom=CELL_H - FRAME_H - MB_TOP,
               x_range=Range1d(*xr), y_range=Range1d(*yr),
               output_backend="svg", toolbar_location=None, tools="")
    p.grid.visible = False
    p.outline_line_color = None
    p.background_fill_color = "white"
    p.border_fill_color = "white"

    lw = 1.2 if spec.get("dense") else 1.0
    if spec.get("segs"):
        for x0, x1, ys in spec["segs"]:
            p.line(np.linspace(x0, x1, len(ys)), ys, line_color="black", line_width=lw)
    if spec.get("xy"):
        p.line(spec["xy"][0], spec["xy"][1], line_color="black", line_width=lw)

    # axis-break marks
    for b in spec.get("breaks", []):
        dx = (xr[1] - xr[0]) * 8.0 / fw
        g = (xr[1] - xr[0]) * 4.0 / fw
        dy = (yr[1] - yr[0]) * 3.0 / FRAME_H
        p.segment(x0=[b - dx - g / 2, b - dx + g / 2], y0=[yr[0], yr[0]],
                  x1=[b + dx - g / 2, b + dx + g / 2], y1=[yr[0] + dy, yr[0] + dy],
                  line_color="#333333", line_width=1)

    xt, yt = spec["xt"], spec["yt"]
    xmin = minor_ticks(xt, xr, spec.get("xminor"))
    ymin = minor_ticks(yt, yr, None)
    p.xaxis.ticker = FixedTicker(ticks=xt, minor_ticks=xmin)
    p.yaxis.ticker = FixedTicker(ticks=yt, minor_ticks=ymin)
    for ax in (p.xaxis[0], p.yaxis[0]):
        ax.formatter = NumeralTickFormatter(format="0.[000]")
        ax.axis_line_color = AX_COLOR
        ax.axis_line_width = 1
        ax.major_tick_line_color = AX_COLOR
        ax.minor_tick_line_color = AX_COLOR
        ax.major_tick_in = 0
        ax.major_tick_out = 4
        ax.minor_tick_in = 0
        ax.minor_tick_out = 2
        ax.major_label_text_font = FONT
        ax.major_label_text_font_size = "17px"
        ax.major_label_text_color = "black"
        ax.major_label_standoff = 2

    p.add_layout(Label(x=xr[0] + (xr[1] - xr[0]) * 6.0 / fw,
                       y=yr[1] - (yr[1] - yr[0]) * 6.0 / FRAME_H,
                       text=spec["name"], text_font=FONT, text_font_size="21px",
                       text_baseline="top", text_align="left", text_color="black"))
    return p


def cell_width(c):
    w = CELL_W
    if c == 0:
        w -= (YL_W - 54)
    if c == 5:
        w -= 2
    return w


rows = []
for r in range(6):
    items = []
    for c in range(6):
        spec = PANELS[r * 6 + c]
        w = cell_width(c)
        if spec is None:
            items.append(Spacer(width=w, height=CELL_H))
        else:
            items.append(make_panel(spec, w, first_col=(c == 0), last_col=(c == 5)))
    rows.append(row(*items, spacing=0))

last = PANELS[36:]
items = [make_panel(last[0], cell_width(0) + 2 * CELL_W, first_col=True),
         make_panel(last[1], CELL_W),
         make_panel(last[2], CELL_W),
         make_panel(last[3], cell_width(5), last_col=True)]
rows.append(row(*items, spacing=0))

TOTAL_W = 1270 - YL_W
XT_H = 1597 - 7 * CELL_H

xlab = figure(frame_width=TOTAL_W, frame_height=XT_H, min_border_left=0, min_border_right=0,
              min_border_top=0, min_border_bottom=0, x_range=Range1d(0, TOTAL_W), y_range=Range1d(0, XT_H),
              output_backend="svg", toolbar_location=None, tools="")
xlab.axis.visible = False
xlab.grid.visible = False
xlab.outline_line_color = None
xlab.add_layout(Label(x=657 - YL_W, y=XT_H - 34, text="Time (years BP)", text_font=FONT, text_font_size="36px",
                      text_align="center", text_baseline="middle", text_color="black"))

ylab = figure(frame_width=YL_W, frame_height=1597, min_border_left=0, min_border_right=0,
              min_border_top=0, min_border_bottom=0, x_range=Range1d(0, YL_W), y_range=Range1d(0, 1597),
              output_backend="svg", toolbar_location=None, tools="")
ylab.axis.visible = False
ylab.grid.visible = False
ylab.outline_line_color = None
ylab.add_layout(Label(x=36, y=1597 - 717, text="Annual growth rate (mm yr\u207b\u00b9)", angle=pi / 2,
                      text_font=FONT, text_font_size="36px", text_align="center", text_baseline="middle",
                      text_color="black"))

layout = row(ylab, column(*rows, xlab, spacing=0), spacing=0)

with open("out.html", "w") as f:
    f.write(file_html(layout, INLINE))
